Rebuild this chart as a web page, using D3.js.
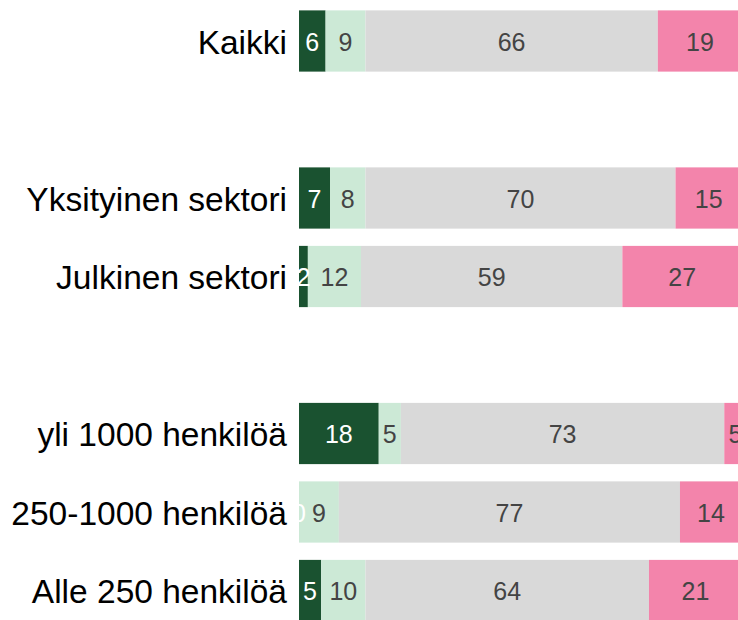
<html>
<head>
    <script src="https://d3js.org/d3.v7.min.js"></script>
    <style>
        body { margin: 0; background: #fff; }
        text { font-family: "Liberation Sans", Arial, sans-serif; }
    </style>
</head>
<body>
    <svg id="chart"></svg>
    <script>
        var Width = 738, Height = 620;

        // rows; empty names are spacer slots between the groups
        var categories = ["Kaikki", "", "Yksityinen sektori", "Julkinen sektori", "",
                          "yli 1000 henkilöä", "250-1000 henkilöä", "Alle 250 henkilöä"];
        var series = ["s1", "s2", "s3", "s4"];
        var colors = ["#1a5230", "#cce9d6", "#d9d9d9", "#f384ab"];
        var labelColors = ["#ffffff", "#444444", "#444444", "#444444"];

        var s1 = [6, null, 7, 2, null, 18, 0, 5];
        var s2 = [9, null, 8, 12, null, 5, 9, 10];
        var s3 = [66, null, 70, 59, null, 73, 77, 64];
        var s4 = [19, null, 15, 27, null, 5, 14, 21];

        var rows = categories.map(function(c, i) {
            return { name: c, s1: s1[i], s2: s2[i], s3: s3[i], s4: s4[i] };
        }).filter(function(d) { return d.name !== ""; });

        var stack = d3.stack().keys(series)(rows);

        // the 100% end runs slightly past the right edge of the picture
        var x = d3.scaleLinear().domain([0, 100]).range([299, 742]);
        var y = d3.scaleBand()
            .domain(categories.map(function(c, i) { return i + ":" + c; }))
            .range([1.75, 629.75])
            .paddingInner(0.22)
            .paddingOuter(0.11);
        function key(d) { return categories.indexOf(d.name) + ":" + d.name; }

        var svg = d3.select("#chart")
            .attr("width", Width)
            .attr("height", Height);

        svg.append("clipPath").attr("id", "plot")
            .append("rect")
            .attr("x", 299).attr("y", 0)
            .attr("width", Width - 299).attr("height", Height);

        var plot = svg.append("g").attr("clip-path", "url(#plot)");

        // all bars first, then the value labels on top
        stack.forEach(function(layer, li) {
            plot.append("g").selectAll("rect")
                .data(layer)
                .enter().append("rect")
                .attr("x", function(d) { return x(d[0]); })
                .attr("width", function(d) { return x(d[1]) - x(d[0]); })
                .attr("y", function(d) { return y(key(d.data)); })
                .attr("height", y.bandwidth())
                .attr("fill", colors[li]);
        });
        stack.forEach(function(layer, li) {
            plot.append("g").selectAll("text")
                .data(layer)
                .enter().append("text")
                .attr("x", function(d) { return (x(d[0]) + x(d[1])) / 2; })
                .attr("y", function(d) { return y(key(d.data)) + y.bandwidth() / 2; })
                .attr("dy", "0.38em")
                .attr("text-anchor", "middle")
                .style("font-size", "25px")
                .attr("fill", labelColors[li])
                .text(function(d) { return String(d[1] - d[0]); });
        });

        // category labels
        svg.append("g").selectAll("text")
            .data(rows)
            .enter().append("text")
            .attr("x", 287)
            .attr("y", function(d) { return y(key(d)) + y.bandwidth() / 2; })
            .attr("dy", "0.38em")
            .attr("text-anchor", "end")
            .style("font-size", "33.5px")
            .attr("fill", "#000")
            .text(function(d) { return d.name; });
    </script>
</body>
</html>
